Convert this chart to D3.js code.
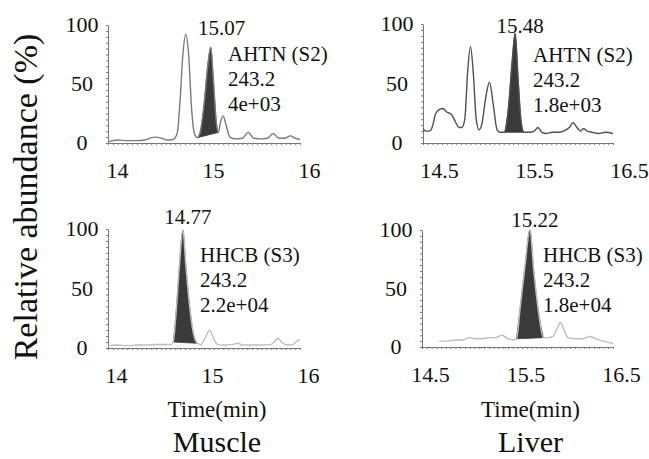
<!DOCTYPE html>
<html>
<head>
<meta charset="utf-8">
<script src="https://cdn.jsdelivr.net/npm/d3@7"></script>
<style>
  body { margin: 0; background: #fff; }
</style>
</head>
<body>
<svg width="649" height="459"></svg>
<script>
var FONT = "Liberation Serif";

// chromatogram traces: [time (min), relative abundance %]
var muscleAhtn = [[14.00,1],[14.05,2],[14.10,2.5],[14.20,2],[14.30,2],[14.38,2.5],[14.45,4.5],[14.50,5],
  [14.56,4],[14.62,2.5],[14.68,3],[14.72,8],[14.75,35],[14.78,75],[14.81,92],[14.84,75],[14.87,30],
  [14.90,8],[14.93,4.5],[14.96,9],[15.00,32],[15.04,66],[15.07,81],[15.10,50],[15.13,16],[15.15,9],
  [15.17,17],[15.20,23],[15.23,15],[15.27,5],[15.33,3.5],[15.40,4],[15.46,9],[15.52,4],[15.60,3.5],
  [15.66,4],[15.72,8],[15.78,4],[15.84,4],[15.90,6],[15.95,4],[16.00,3]];
var liverAhtn = [[14.50,12],[14.53,10],[14.57,10],[14.60,14],[14.63,24],[14.67,28],[14.71,29],[14.75,26],
  [14.80,24],[14.84,18],[14.88,13],[14.91,13],[14.94,20],[14.97,60],[15.00,81],[15.03,58],[15.06,20],
  [15.09,11],[15.12,16],[15.16,38],[15.20,51],[15.24,32],[15.28,11],[15.31,9],[15.36,9],[15.40,30],
  [15.44,70],[15.47,92],[15.50,55],[15.53,20],[15.56,9],[15.62,9],[15.67,10],[15.71,13],[15.75,9],
  [15.80,8],[15.86,9],[15.92,9],[15.98,10],[16.04,13],[16.08,17],[16.12,13],[16.16,10],[16.19,12],
  [16.23,10],[16.28,9],[16.35,8],[16.42,9],[16.50,8]];
var muscleHhcb = [[14.00,2],[14.10,2.5],[14.20,2],[14.30,2.5],[14.40,2.5],[14.50,3],[14.60,3],[14.66,3],
  [14.68,5],[14.71,30],[14.745,70],[14.78,99],[14.81,70],[14.85,35],[14.89,12],[14.93,4],[14.97,3],
  [15.01,8],[15.06,15],[15.10,8],[15.14,3],[15.20,2.5],[15.30,3],[15.35,4],[15.40,2.5],[15.50,2.5],
  [15.60,2.5],[15.70,3],[15.77,8],[15.82,4],[15.88,2.5],[15.93,3],[15.97,6],[16.00,7]];
var liverHhcb = [[14.68,5],[14.75,5],[14.85,6],[14.92,6],[15.00,8],[15.06,7],[15.12,7],[15.20,8],
  [15.27,8],[15.34,10],[15.40,7],[15.45,6],[15.49,7],[15.53,35],[15.58,70],[15.63,100],[15.67,65],
  [15.72,30],[15.77,8],[15.82,8],[15.87,9],[15.91,15],[15.95,21],[15.99,14],[16.03,8],[16.10,7],
  [16.18,7],[16.26,9],[16.32,7],[16.40,5],[16.50,3]];

// shaded peak windows (min)
var fillRanges = [[14.93,15.15],[15.36,15.56],[14.67,14.93],[15.49,15.77]];
var peakTimes = ["15.07", "15.48", "14.77", "15.22"];
var compounds = ["AHTN (S2)", "AHTN (S2)", "HHCB (S3)", "HHCB (S3)"];
var ions = ["243.2", "243.2", "243.2", "243.2"];
var intensities = ["4e+03", "1.8e+03", "2.2e+04", "1.8e+04"];
var xDomains = [[14,16],[14.5,16.5],[14,16],[14.5,16.5]];
var xTicks = [[14,15,16],[14.5,15.5,16.5],[14,15,16],[14.5,15.5,16.5]];
var yTicks = [0, 50, 100];
var tissues = ["Muscle", "Liver"];

var traces = [muscleAhtn, liverAhtn, muscleHhcb, liverHhcb];

// layout of the four panels
var panels = [
  { x: [108,300], y: [143,25],  stroke: "#7a7a7a", labelShift: 9,  peakDx: 11, peakDy: -12, txt: [120,36] },
  { x: [423,613], y: [143,24],  stroke: "#505050", labelShift: 16, peakDx: 5,  peakDy: -1,  txt: [110,38] },
  { x: [108,300], y: [348,229], stroke: "#bdbdbd", labelShift: 8,  peakDx: 5,  peakDy: -6,  txt: [92,33] },
  { x: [422,613], y: [347,230], stroke: "#bdbdbd", labelShift: 8,  peakDx: 5,  peakDy: -3,  txt: [121,32] }
];

var svg = d3.select("svg");

function addText(sel, size) {
    return sel.append("text")
        .attr("font-family", FONT)
        .attr("font-size", size)
        .attr("fill", "#111");
}

panels.forEach(function(p, i) {
    var x = d3.scaleLinear().domain(xDomains[i]).range(p.x);
    var y = d3.scaleLinear().domain([0,100]).range(p.y);
    var g = svg.append("g");

    // x axis: line with fine dotted ticks
    var minorX = d3.range(xDomains[i][0], xDomains[i][1] + 0.001, 0.05);
    var xa = g.append("g")
        .attr("transform", "translate(0," + p.y[0] + ")")
        .call(d3.axisBottom(x).tickValues(minorX).tickSize(2).tickSizeOuter(0).tickFormat(""));
    xa.selectAll("line, path").attr("stroke", "#777").attr("stroke-width", 1);

    var xl = g.append("g")
        .attr("transform", "translate(0," + p.y[0] + ")")
        .call(d3.axisBottom(x).tickValues(xTicks[i]).tickSize(0).tickPadding(19).tickFormat(d3.format("")));
    xl.attr("font-family", FONT).attr("font-size", 22);
    xl.select(".domain").remove();
    xl.selectAll("text")
        .attr("dx", p.labelShift)
        .attr("font-family", FONT)
        .attr("font-size", 22)
        .attr("fill", "#111");

    // y axis
    var ya = g.append("g")
        .attr("transform", "translate(" + p.x[0] + ",0)")
        .call(d3.axisLeft(y).tickValues(d3.range(0, 101, 5)).tickSize(2).tickSizeOuter(0).tickFormat(""));
    ya.selectAll("line, path").attr("stroke", "#777").attr("stroke-width", 1);

    yTicks.forEach(function(v) {
        addText(g, 22)
            .attr("x", p.x[0] - 26)
            .attr("y", y(v))
            .attr("dy", "0.33em")
            .attr("text-anchor", "middle")
            .text(v);
    });

    var line = d3.line()
        .x(function(d) { return x(d[0]); })
        .y(function(d) { return y(d[1]); })
        .curve(d3.curveMonotoneX);

    // shaded peak
    var r = fillRanges[i];
    var inPeak = traces[i].filter(function(d) { return d[0] >= r[0] - 1e-9 && d[0] <= r[1] + 1e-9; });
    g.append("path")
        .attr("d", line(inPeak) + "Z")
        .attr("fill", "#3a3a3a")
        .attr("stroke", "#3a3a3a")
        .attr("stroke-width", 0.8);

    g.append("path")
        .datum(traces[i])
        .attr("d", line)
        .attr("fill", "none")
        .attr("stroke", p.stroke)
        .attr("stroke-width", 1.4);

    // apex label
    var apex = d3.greatest(inPeak, function(d) { return d[1]; });
    addText(g, 21)
        .attr("x", x(apex[0]) + p.peakDx)
        .attr("y", y(apex[1]) + p.peakDy)
        .attr("text-anchor", "middle")
        .text(peakTimes[i]);

    [compounds[i], ions[i], intensities[i]].forEach(function(s, k) {
        addText(g, 21)
            .attr("x", p.x[0] + p.txt[0])
            .attr("y", p.y[1] + p.txt[1] + k * 25)
            .text(s);
    });
});

// shared labels
[0, 1].forEach(function(c) {
    var p = panels[c + 2];
    var mid = (p.x[0] + p.x[1]) / 2 + 13;
    addText(svg, 23)
        .attr("x", mid).attr("y", 417)
        .attr("text-anchor", "middle")
        .text("Time(min)");
    addText(svg, 30)
        .attr("x", mid).attr("y", 452)
        .attr("text-anchor", "middle")
        .text(tissues[c]);
});

addText(svg, 34)
    .attr("transform", "translate(37,197) rotate(-90)")
    .attr("text-anchor", "middle")
    .text("Relative abundance (%)");
</script>
</body>
</html>
